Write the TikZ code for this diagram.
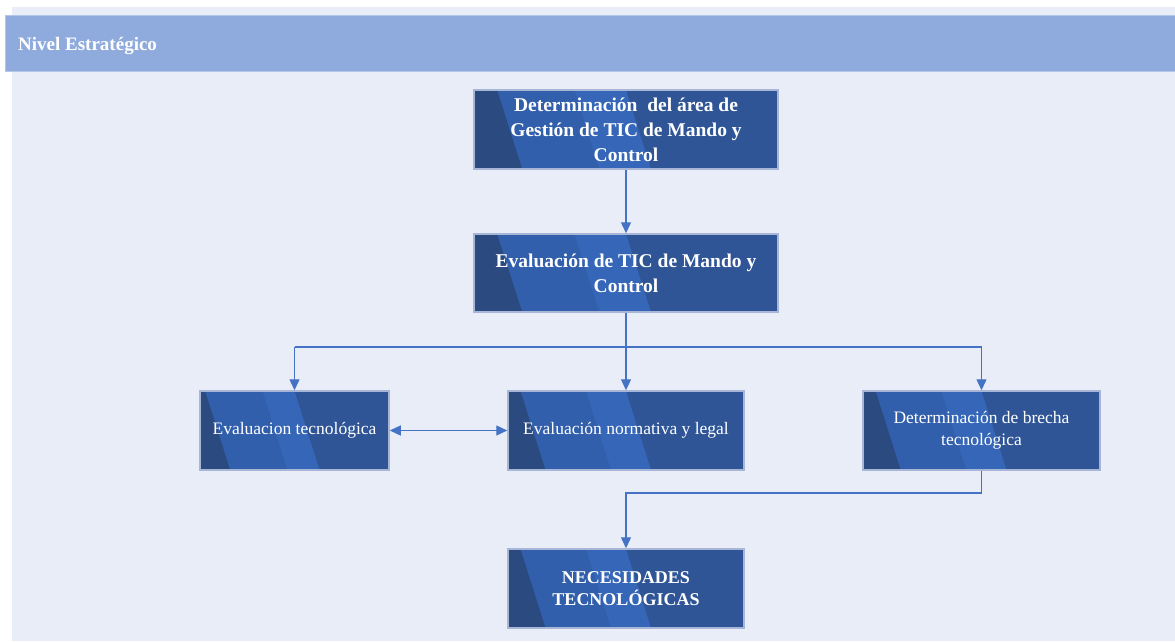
\documentclass[tikz,border=0pt]{standalone}
\usepackage{fontspec}
\setmainfont{Liberation Serif}
\usetikzlibrary{arrows.meta,calc}

\definecolor{panelbg}{HTML}{E9EDF8}
\definecolor{headbg}{HTML}{8FAADC}
\definecolor{headline}{HTML}{B4C7E7}
\definecolor{boxbase}{HTML}{2F5597}
\definecolor{boxdark}{HTML}{2A4A80}
\definecolor{boxmid}{HTML}{325FAB}
\definecolor{boxlight}{HTML}{3666B8}
\definecolor{boxedge}{HTML}{A7B6D6}
\definecolor{link}{HTML}{4472C4}

% stripe polygon: from the left edge to a slanted line at fraction #1 of the width,
% shifted by #2 (pt) along the top edge
\newcommand{\boxstripe}[3]{%
  \fill[#3] let \p1=(path picture bounding box.north west),
                \p2=(path picture bounding box.south east),
                \n1={\x2-\x1} in
    (\x1,\y1) -- ({\x1+#1*\n1+#2},\y1) -- ({\x1+#1*\n1+#2+25pt},\y2) -- (\x1,\y2) -- cycle;}

\tikzset{
  stepbox/.style={
    draw=boxedge, line width=1.5pt, fill=boxbase,
    text=white, align=center, inner sep=0pt,
    font=\fontsize{17.5}{22}\selectfont,
    path picture={
      \boxstripe{0.5}{0pt}{boxlight}
      \boxstripe{0.33}{0pt}{boxmid}
      \boxstripe{0.157}{-24.6pt}{boxdark}
    }
  },
  boldbox/.style={stepbox, font=\bfseries\fontsize{19.5}{25}\selectfont},
  link/.style={draw=link, line width=1.3pt, -{Triangle[width=10pt,length=11pt]}},
  plainlink/.style={draw=link, line width=1.3pt},
}

\begin{document}
\begin{tikzpicture}[x=1pt,y=-1pt]
  % page and panel
  \fill[white] (0,0) rectangle (1175,641);
  \useasboundingbox (0,0) rectangle (1175,641);
  \fill[panelbg] (12,7) rectangle (1175,641);
  % header band
  \filldraw[fill=headbg, draw=headline, line width=1pt] (5,15) rectangle (1180,71);
  \node[anchor=west, text=white, font=\bfseries\fontsize{19}{22}\selectfont, inner sep=0pt] (title) at (18,45.5) {Nivel Estratégico};

  % boxes
  \node[boldbox, minimum width=304, minimum height=79] (det) at (626,129.5)
    {Determinación\ \ del área de\\Gestión de TIC de Mando y\\Control};
  \node[boldbox, minimum width=304, minimum height=78] (eval) at (626,273)
    {Evaluación de TIC de Mando y\\Control};
  \node[stepbox, minimum width=189, minimum height=79] (tec) at (294.5,430.5)
    {Evaluacion tecnológica};
  \node[stepbox, minimum width=236, minimum height=79] (norm) at (626,430.5)
    {Evaluación normativa y legal};
  \node[stepbox, minimum width=237, minimum height=79] (brecha) at (981.5,430.5)
    {Determinación de brecha\\tecnológica};
  \node[boldbox, font=\bfseries\fontsize{18}{22}\selectfont, minimum width=236, minimum height=79] (nec) at (626,588.5)
    {NECESIDADES\\TECNOLÓGICAS};

  % connectors
  \coordinate (split) at (626,347);
  \coordinate (join) at (981.5,493);
  \draw[link] (det.south) -- (eval.north);
  \draw[plainlink] (eval.south) -- (split);
  \draw[plainlink] (tec.north |- split) -- (brecha.north |- split);
  \draw[link] (tec.north |- split) -- (tec.north);
  \draw[link] (split) -- (norm.north);
  \draw[link] (brecha.north |- split) -- (brecha.north);
  \draw[link, {Triangle[width=10pt,length=11pt]}-{Triangle[width=10pt,length=11pt]}] (tec.east) -- (norm.west);
  \draw[link] (brecha.south) -- (join) -- (nec.north |- join) -- (nec.north);
\end{tikzpicture}
\end{document}
